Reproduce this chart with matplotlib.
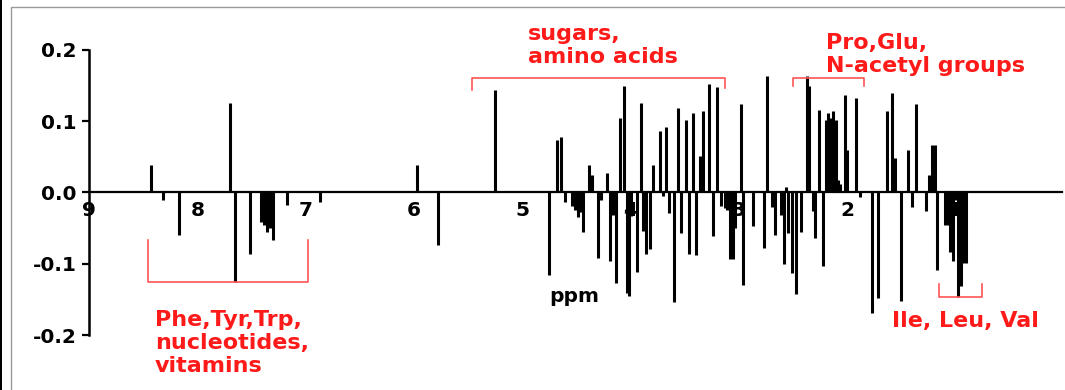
import numpy as np
import matplotlib
matplotlib.use('Agg')
import matplotlib.pyplot as plt
from matplotlib.patches import Rectangle

# NMR loadings: chemical shift (ppm) and loading value
ppm = [8.43, 8.32, 8.17, 7.70, 7.65, 7.51, 7.41, 7.38, 7.36, 7.33, 7.30, 7.17, 6.87,
       5.97, 5.78, 5.25, 4.75, 4.68, 4.64, 4.60, 4.54, 4.51, 4.48, 4.46, 4.44,
       4.38, 4.35, 4.30, 4.27, 4.22, 4.19, 4.16, 4.13, 4.10, 4.06, 4.035, 4.01,
       3.99, 3.94, 3.90, 3.88, 3.86, 3.82, 3.79, 3.73, 3.70, 3.67, 3.64, 3.60,
       3.56, 3.53, 3.49, 3.46, 3.42, 3.39, 3.36, 3.33, 3.27, 3.235, 3.20,
       3.16, 3.13, 3.11, 3.08, 3.05, 3.03, 2.98, 2.96, 2.87, 2.77, 2.735,
       2.69, 2.66, 2.61, 2.58, 2.56, 2.54, 2.51, 2.47, 2.425, 2.37, 2.35,
       2.31, 2.29, 2.26, 2.22, 2.19, 2.17, 2.15, 2.13, 2.10, 2.08, 2.06,
       2.02, 2.00, 1.92, 1.88, 1.77, 1.71, 1.63, 1.58, 1.56, 1.50, 1.44,
       1.40, 1.36, 1.27, 1.24, 1.21, 1.19, 1.17, 1.095, 1.065, 1.05, 1.02,
       0.99, 0.97, 0.95, 0.925, 0.90]
loading = [0.039, -0.010, -0.060, 0.125, -0.126, -0.086, -0.042, -0.045, -0.055, -0.050, -0.066, -0.017, -0.014,
           0.039, -0.074, 0.144, -0.116, 0.074, 0.078, -0.013, -0.019, -0.024, -0.035, -0.028, -0.056,
           0.039, 0.025, -0.092, -0.010, 0.028, -0.096, -0.031, -0.127, 0.105, 0.150, -0.141, -0.145,
           -0.033, -0.112, 0.126, -0.054, -0.087, -0.080, 0.038, 0.086, -0.005, 0.092, -0.029, -0.154,
           0.118, -0.057, 0.102, -0.087, 0.112, -0.088, 0.051, 0.114, 0.152, -0.061, 0.148,
           -0.019, -0.022, -0.024, -0.094, -0.094, -0.050, 0.124, -0.130, -0.047, -0.078, 0.164,
           -0.021, -0.059, -0.031, -0.101, 0.007, -0.057, -0.113, -0.143, -0.056, 0.164, 0.149,
           -0.026, -0.064, 0.116, -0.103, 0.102, 0.112, 0.104, 0.114, 0.102, 0.018, 0.012,
           0.137, 0.060, 0.133, -0.007, -0.169, -0.148, 0.114, 0.140, 0.049, -0.152, 0.059,
           -0.021, 0.124, -0.026, 0.024, 0.066, 0.067, -0.109, -0.045, -0.045, -0.084, -0.096,
           -0.010, -0.146, -0.131, -0.099, -0.099]

yticks = [-0.2, -0.1, 0.0, 0.1, 0.2]
xticks = [9, 8, 7, 6, 5, 4, 3, 2, 1]

red = '#ff1a1a'
bracket_red = '#ff5555'

fig = plt.figure(figsize=(10.65, 3.9), dpi=100)
ax = fig.add_axes([0.0836, 0.141, 0.9134, 0.731])

ax.vlines(ppm, 0, loading, color='black', linewidth=2.2)

ax.set_xlim(9, 0.015)
ax.set_ylim(-0.2, 0.2)

# axis at zero, y axis on the left
ax.spines['bottom'].set_position(('data', 0))
ax.spines['top'].set_visible(False)
ax.spines['right'].set_visible(False)
ax.spines['bottom'].set_linewidth(1.6)
ax.spines['left'].set_linewidth(1.8)

ax.set_xticks(xticks)
ax.set_xticklabels([str(t) for t in xticks], fontweight='bold', fontsize=14.5)
ax.set_yticks(yticks)
ax.set_yticklabels(['%.1f' % t for t in yticks], fontweight='bold', fontsize=14.5)
ax.tick_params(axis='x', length=0, pad=6)
ax.tick_params(axis='y', length=5, width=1.6, pad=4)

ax.text(4.752, -0.153, 'ppm', fontweight='bold', fontsize=14.5, ha='left', va='baseline')

# red region labels (va='baseline' -> last line baseline)
lbl = dict(color=red, fontweight='bold', fontsize=16, ha='left', va='baseline',
           linespacing=1.18, clip_on=False)
ax.text(4.95, 0.182, 'sugars,\namino acids', **lbl)
ax.text(2.194, 0.169, 'Pro,Glu,\nN-acetyl groups', **lbl)
ax.text(8.39, -0.252, 'Phe,Tyr,Trp,\nnucleotides,\nvitamins', **lbl)
ax.text(1.585, -0.189, 'Ile, Leu, Val', **lbl)

# brackets
ax.plot([5.46, 5.46, 3.13, 3.13], [0.144, 0.161, 0.161, 0.146], color=bracket_red, lw=1.2, clip_on=False)
ax.plot([2.50, 2.50, 1.84, 1.84], [0.150, 0.161, 0.161, 0.150], color=bracket_red, lw=1.2, clip_on=False)
ax.plot([8.455, 8.455, 6.98, 6.98], [-0.067, -0.126, -0.126, -0.067], color=bracket_red, lw=1.2, clip_on=False)
ax.plot([1.15, 1.15, 0.754, 0.754], [-0.129, -0.146, -0.146, -0.129], color=bracket_red, lw=1.2, clip_on=False)

# outer frame of the picture
fig.patches.append(Rectangle((11 / 1065, -0.1), 1.2, 1.1 - 7 / 390, transform=fig.transFigure,
                             fill=False, edgecolor='#999999', linewidth=1))
fig.patches.append(Rectangle((0, 0), 2 / 1065, 1, transform=fig.transFigure,
                             facecolor='black', edgecolor='none'))

fig.savefig('out.png', dpi=100)
